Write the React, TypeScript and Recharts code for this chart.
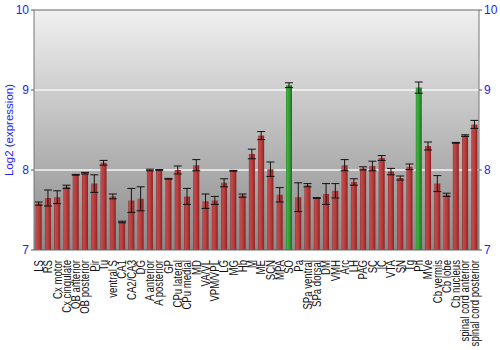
import React from 'react';
import { BarChart, Bar, XAxis, YAxis, CartesianGrid, ErrorBar, Cell, ReferenceLine } from 'recharts';

const labels = ['LS','RS','Cx motor','Cx cingulate','OB anterior','OB posterior','Pir','Tu','ventral S','CA1','CA2/CA3','DG','A anterior','A posterior','GP','CPu lateral','CPu medial','MD','VA/VL','VPM/VPL','LG','MG','Hb','M','ME','SCN','MPA','SO','Pa','SPa ventral','SPa dorsal','DM','VMH','Arc','LH','PAG','SC','IC','VTA','SN','Tg','Pn','MVe','Cb vermis','Cb lobe','Cb nucleus','spinal cord anterior','spinal cord posterior'];
const values = [7.58,7.65,7.66,7.79,7.94,7.96,7.83,8.09,7.67,7.35,7.62,7.64,8.0,8.0,7.89,8.0,7.67,8.06,7.61,7.62,7.84,7.99,7.68,8.2,8.43,8.01,7.69,9.06,7.66,7.81,7.65,7.7,7.74,8.06,7.85,8.02,8.05,8.15,7.98,7.9,8.04,9.03,8.3,7.83,7.69,8.34,8.43,8.57];
const errors = [0.02,0.1,0.08,0.02,0.005,0.01,0.11,0.03,0.03,0.01,0.15,0.15,0.01,0.005,0.005,0.05,0.1,0.07,0.09,0.05,0.05,0.005,0.02,0.06,0.05,0.09,0.09,0.03,0.18,0.02,0.005,0.13,0.09,0.07,0.04,0.02,0.06,0.03,0.04,0.025,0.035,0.07,0.05,0.1,0.02,0.005,0.01,0.05];
const highlighted = ['SO','Pn'];
const yTicks = [7, 8, 9, 10];

const data = labels.map((name, i) => ({ name, value: values[i], err: errors[i] }));

const XTick = (props: any) => {
  const { x, y, payload } = props;
  return (
    <text
      transform={`translate(${x},${y + 2}) rotate(-90) scale(0.8,1)`}
      textAnchor="end"
      dy="0.36em"
      fontSize={12}
      fontFamily="Liberation Sans, Arial, sans-serif"
      fill="#111"
    >
      {payload.value}
    </text>
  );
};

const YLabel = (props: any) => {
  const { viewBox } = props;
  const cy = viewBox.y + viewBox.height / 2;
  return (
    <text
      transform={`translate(13,${cy}) rotate(-90)`}
      textAnchor="middle"
      fontSize={11.5}
      fontFamily="Liberation Sans, Arial, sans-serif"
      fill="#2222ff"
    >
      Log2 (expression)
    </text>
  );
};

export default function App() {
  return (
    <div style={{ position: 'absolute', left: 0, top: 0, width: 500, height: 350, background: '#fff' }}>
      <BarChart width={500} height={350} data={data} margin={{ top: 10, right: 0, bottom: 0, left: 0 }} barCategoryGap="18%">
        <defs>
          <linearGradient id="bg" x1="0" y1="0" x2="0" y2="1">
            <stop offset="0%" stopColor="#f0f0f0" />
            <stop offset="100%" stopColor="#8a8a8a" />
          </linearGradient>
          <linearGradient id="red" x1="0" y1="0" x2="1" y2="0">
            <stop offset="0%" stopColor="#8e2424" />
            <stop offset="15%" stopColor="#c24a4a" />
            <stop offset="55%" stopColor="#b83c3c" />
            <stop offset="100%" stopColor="#8a2222" />
          </linearGradient>
          <linearGradient id="green" x1="0" y1="0" x2="1" y2="0">
            <stop offset="0%" stopColor="#2a8a2a" />
            <stop offset="20%" stopColor="#44b044" />
            <stop offset="60%" stopColor="#2f9a2f" />
            <stop offset="100%" stopColor="#1a6e1a" />
          </linearGradient>
        </defs>
        <CartesianGrid
          yAxisId="left"
          vertical={false}
          horizontalValues={[8, 9]}
          stroke="#f4f4f4"
          strokeWidth={1.5}
          fill="url(#bg)"
          fillOpacity={1}
        />
        <XAxis
          dataKey="name"
          interval={0}
          height={100}
          tick={<XTick />}
          tickLine={false}
          axisLine={{ stroke: '#666' }}
        />
        <YAxis
          yAxisId="left"
          domain={[7, 10]}
          ticks={yTicks}
          allowDataOverflow
          width={34}
          tick={{ fill: '#2222ff', fontSize: 12, fontFamily: 'Liberation Sans, Arial, sans-serif' }}
          tickLine={{ stroke: '#555' }}
          tickSize={3}
          axisLine={{ stroke: '#777' }}
          label={<YLabel />}
        />
        <YAxis
          yAxisId="right"
          orientation="right"
          domain={[7, 10]}
          ticks={yTicks}
          allowDataOverflow
          width={21}
          tick={{ fill: '#2222ff', fontSize: 12, fontFamily: 'Liberation Sans, Arial, sans-serif', textAnchor: 'start' }}
          tickLine={{ stroke: '#555' }}
          tickSize={3}
          axisLine={{ stroke: '#777' }}
        />
        <Bar yAxisId="left" dataKey="value" isAnimationActive={false}>
          {data.map((d, i) => (
            <Cell key={i} fill={highlighted.includes(d.name) ? 'url(#green)' : 'url(#red)'} />
          ))}
          <ErrorBar dataKey="err" width={4} stroke="#111" strokeWidth={1} />
        </Bar>
        <ReferenceLine yAxisId="left" y={10} stroke="#666" strokeWidth={1} />
      </BarChart>
    </div>
  );
}
